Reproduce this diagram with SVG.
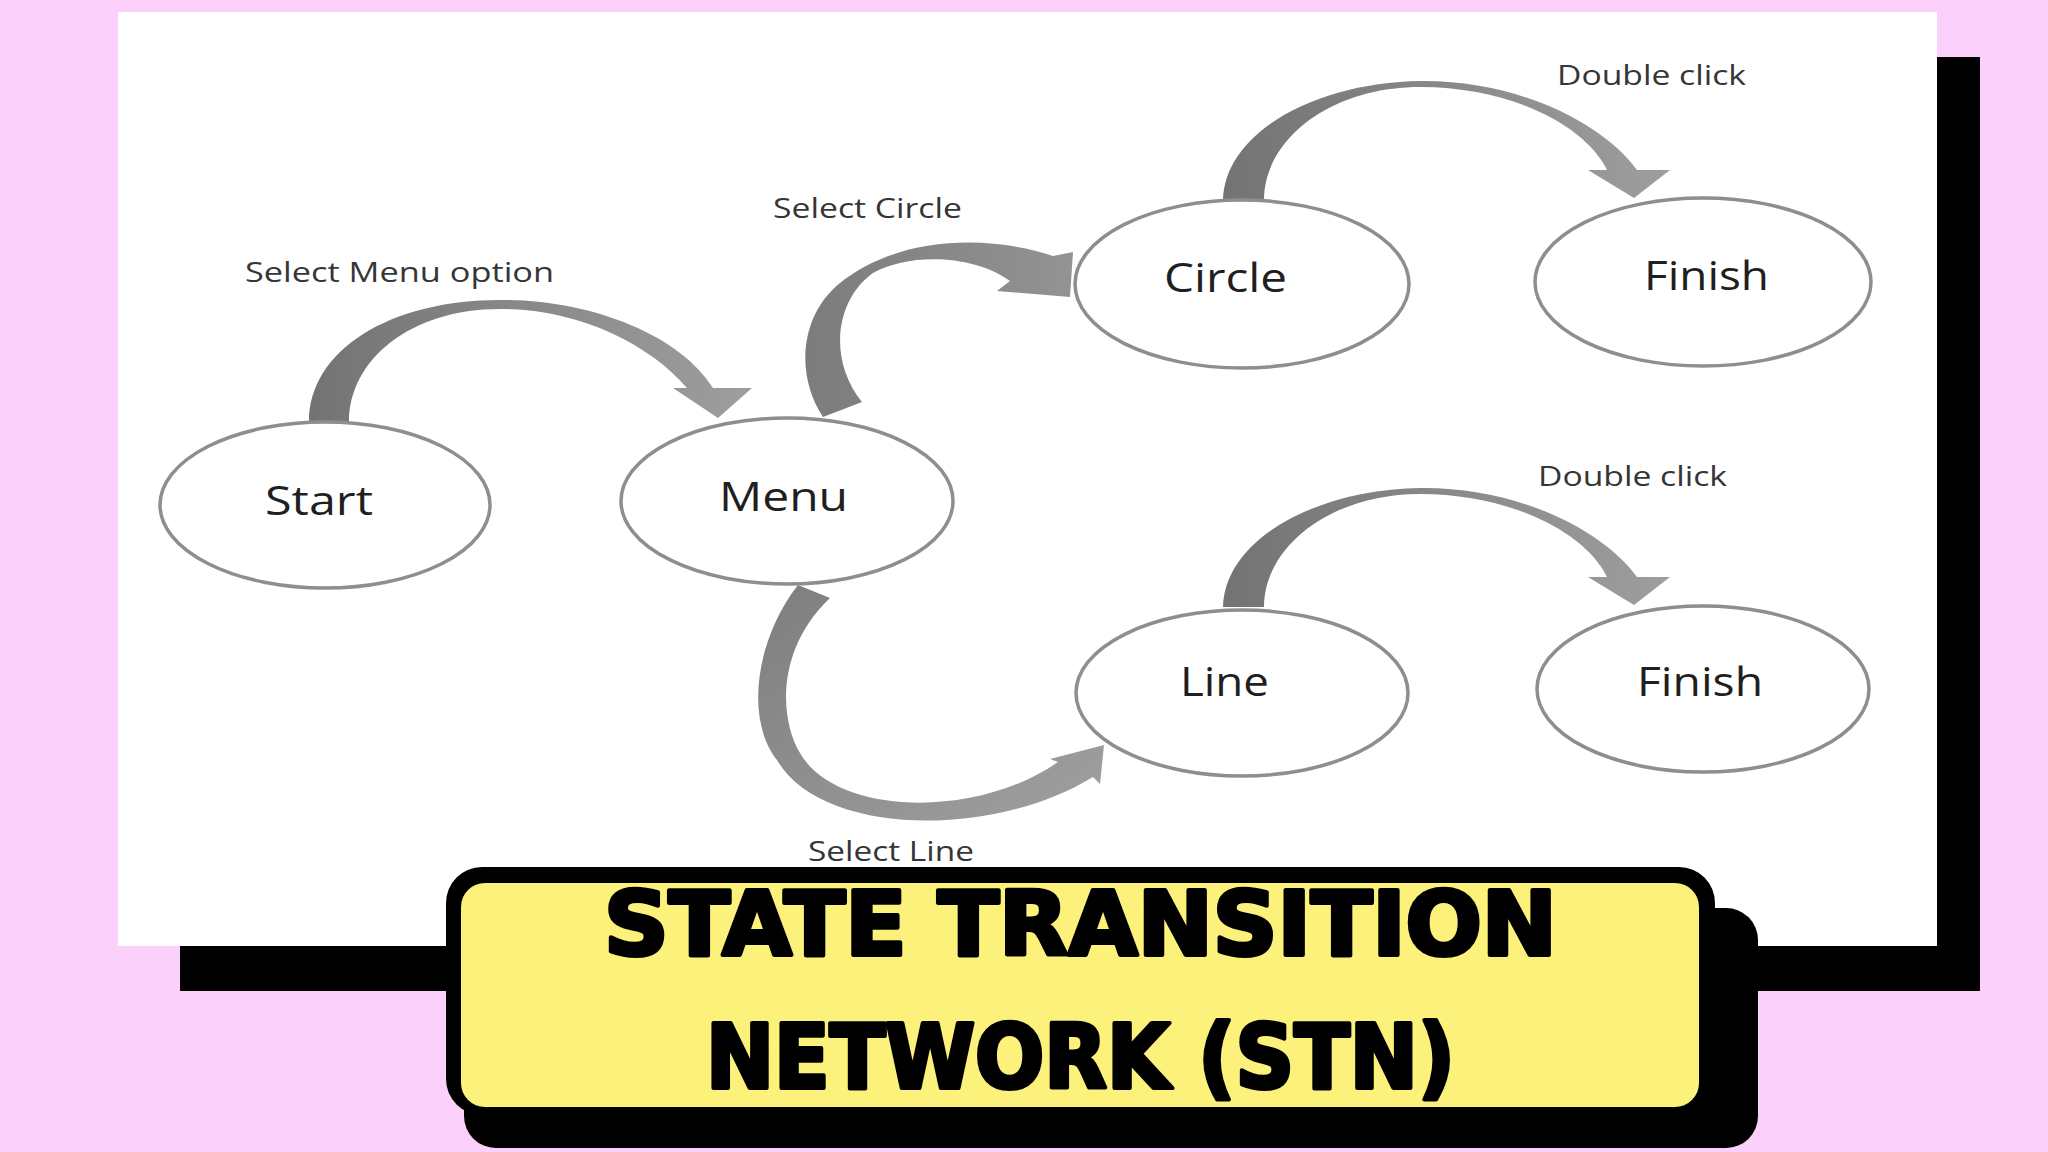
<svg xmlns="http://www.w3.org/2000/svg" width="2048" height="1152" viewBox="0 0 2048 1152">
<style>
.node ellipse{fill:#ffffff;stroke:#8e8e8e;stroke-width:3.5}
.nlabel{font-family:"Open Sans","Liberation Sans",sans-serif;font-size:40px;fill:#1f1f1f}
.elabel{font-family:"Open Sans","Liberation Sans",sans-serif;font-size:27px;fill:#363636}
.title{font-family:"DejaVu Sans Condensed","DejaVu Sans",sans-serif;font-weight:bold;font-stretch:condensed;font-size:89px;fill:#000000;stroke:#000000;stroke-width:4;stroke-linejoin:round}
</style>
<defs>
<linearGradient id="g1" x1="0" y1="0" x2="1" y2="0">
<stop offset="0" stop-color="#737373"/><stop offset="0.45" stop-color="#878787"/><stop offset="1" stop-color="#9e9e9e"/>
</linearGradient>
<linearGradient id="g2" x1="0" y1="0" x2="1" y2="0">
<stop offset="0" stop-color="#7c7c7c"/><stop offset="1" stop-color="#939393"/>
</linearGradient>
<linearGradient id="g3" x1="0" y1="0" x2="1" y2="1">
<stop offset="0" stop-color="#7e7e7e"/><stop offset="1" stop-color="#a0a0a0"/>
</linearGradient>
</defs>
<rect x="0" y="0" width="2048" height="1152" fill="#fbd1fb"/>
<rect x="180" y="57" width="1800" height="934" fill="#000000"/>
<rect x="118" y="12" width="1819" height="934" fill="#ffffff"/>
<g id="connectors">
<path d="M 309,422 C 309,350 390,300 500,300 C 590,299 680,335 713,388 L 752,388 L 718,418 L 673,388 L 687,388 C 650,345 580,309 500,309 C 410,309 349,360 349,422 Z" fill="url(#g1)"/>
<path d="M 823,417 C 795,375 800,315 840,283 C 900,235 990,235 1053,256 L 1073,252 L 1070,297 L 997,291 L 1010,281 C 975,255 910,252 873,273 C 835,300 828,360 862,402 Z" fill="url(#g2)"/>
<path d="M 798,585 C 755,640 745,720 777,760 C 820,835 990,840 1093,777 L 1100,784 L 1104,745 L 1050,759 L 1058,762 C 975,820 835,815 800,753 C 780,720 775,650 830,598 Z" fill="url(#g3)"/>
<path d="M 1223,200 C 1225,130 1320,82 1421,81 C 1520,80 1605,125 1637,170 L 1670,170 L 1634,198 L 1588,170 L 1607,170 C 1585,125 1510,87 1420,87 C 1330,87 1264,140 1264,200 Z" fill="url(#g1)"/>
<path transform="translate(0,407)" d="M 1223,200 C 1225,130 1320,82 1421,81 C 1520,80 1605,125 1637,170 L 1670,170 L 1634,198 L 1588,170 L 1607,170 C 1585,125 1510,87 1420,87 C 1330,87 1264,140 1264,200 Z" fill="url(#g1)"/>
<text class="elabel" x="245" y="282" textLength="309" lengthAdjust="spacingAndGlyphs">Select Menu option</text>
<text class="elabel" x="773" y="218" textLength="189" lengthAdjust="spacingAndGlyphs">Select Circle</text>
<text class="elabel" x="1557" y="85" textLength="189" lengthAdjust="spacingAndGlyphs">Double click</text>
<text class="elabel" x="1538" y="486" textLength="189" lengthAdjust="spacingAndGlyphs">Double click</text>
<text class="elabel" x="808" y="861" textLength="166" lengthAdjust="spacingAndGlyphs">Select Line</text>
</g>
<g id="node-start" class="node"><ellipse cx="325" cy="505" rx="165" ry="83"/><text class="nlabel" x="265" y="515" textLength="108" lengthAdjust="spacingAndGlyphs">Start</text></g>
<g id="node-menu" class="node"><ellipse cx="787" cy="501" rx="166" ry="83"/><text class="nlabel" x="719" y="511" textLength="129" lengthAdjust="spacingAndGlyphs">Menu</text></g>
<g id="node-circle" class="node"><ellipse cx="1242" cy="284" rx="167" ry="84"/><text class="nlabel" x="1164" y="292" textLength="123" lengthAdjust="spacingAndGlyphs">Circle</text></g>
<g id="node-finish1" class="node"><ellipse cx="1703" cy="282" rx="168" ry="84"/><text class="nlabel" x="1644" y="290" textLength="125" lengthAdjust="spacingAndGlyphs">Finish</text></g>
<g id="node-line" class="node"><ellipse cx="1242" cy="693" rx="166" ry="83"/><text class="nlabel" x="1180" y="696" textLength="89" lengthAdjust="spacingAndGlyphs">Line</text></g>
<g id="node-finish2" class="node"><ellipse cx="1703" cy="689" rx="166" ry="83"/><text class="nlabel" x="1637" y="696" textLength="126" lengthAdjust="spacingAndGlyphs">Finish</text></g>
<g id="title">
<rect x="464" y="908" width="1294" height="240" rx="32" fill="#000000"/>
<rect x="446" y="867" width="1269" height="248" rx="36" fill="#000000"/>
<rect x="461" y="883" width="1238" height="224" rx="24" fill="#fcf27b"/>
<text class="title" x="604" y="955" textLength="953" lengthAdjust="spacingAndGlyphs">STATE TRANSITION</text>
<text class="title" x="706" y="1088" textLength="749" lengthAdjust="spacingAndGlyphs">NETWORK (STN)</text>
</g>
</svg>
